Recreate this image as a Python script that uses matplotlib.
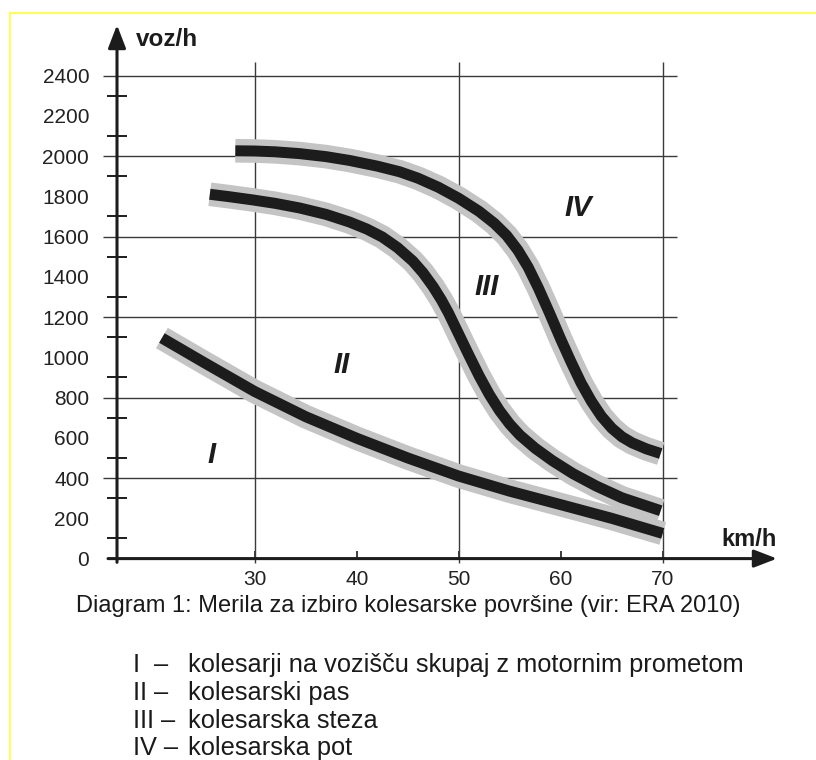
import numpy as np
import matplotlib
matplotlib.use("Agg")
import matplotlib.pyplot as plt
from matplotlib.lines import Line2D

plt.rcParams['font.family'] = ['Liberation Sans', 'DejaVu Sans']

# krivulje (km/h -> voz/h), odcitano z diagrama
speed_I = [20.9, 25, 30, 35, 40, 45, 50, 55, 60, 65, 70]
flow_I = [1096, 975, 830, 705, 598, 500, 410, 335, 268, 200, 125]

speed_II = [25.6, 27.5, 29.8, 32, 34.4, 37, 39.3, 41, 42.5, 44, 45.5, 46.5, 47.5,
            48.3, 49, 50, 51, 52, 53, 54, 55, 56, 57.5, 59.2, 61.2, 63.5, 66, 69.8]
flow_II = [1810, 1798, 1782, 1765, 1742, 1710, 1672, 1637, 1598, 1545, 1478, 1420, 1350,
           1285, 1220, 1115, 1010, 908, 815, 735, 668, 613, 548, 486, 422, 360, 302, 238]

speed_IV = [28.1, 30, 32, 34.4, 37, 39.3, 42, 44.2, 46, 48, 50, 52, 53.5, 54.7, 55.8,
            56.8, 57.8, 58.9, 60, 61, 62, 63, 64, 65, 66, 67, 68.4, 69.8]
flow_IV = [2026, 2025, 2021, 2012, 1997, 1978, 1950, 1922, 1890, 1845, 1790, 1725, 1665,
           1605, 1532, 1448, 1345, 1220, 1090, 978, 872, 782, 706, 648, 605, 575, 545, 522]

region_names = ['I', 'II', 'III', 'IV']
region_x = [25.8, 38.5, 52.7, 61.7]
region_y = [515, 962, 1349, 1741]

x_ticks = [30, 40, 50, 60, 70]
y_ticks = list(range(0, 2401, 200))
grid_x = [30, 50, 70]
grid_y = [400, 800, 1200, 1600, 2000, 2400]

caption = "Diagram 1: Merila za izbiro kolesarske površine (vir: ERA 2010)"
legend_num = ['I  –', 'II –', 'III –', 'IV –']
legend_txt = ['kolesarji na vozišču skupaj z motornim prometom',
              'kolesarski pas',
              'kolesarska steza',
              'kolesarska pot']

W, H = 816, 760
fig = plt.figure(figsize=(W / 100, H / 100), dpi=100)
ax = fig.add_axes([117 / W, 1 - 558.6 / H, 660 / W, 533.6 / H])
ax.set_xlim(16.5, 81.2)
ax.set_ylim(0, 2651)
for s in ax.spines.values():
    s.set_visible(False)

dark = '#1c1c1c'
gridc = '#3a3a3a'

# mreza
ax.hlines(grid_y, 15.1, 71.4, color=gridc, lw=1.0, zorder=2, clip_on=False)
ax.vlines(grid_x, -20, 2467, color=gridc, lw=1.0, zorder=2, clip_on=False)

# krivulje
for sx, fy in [(speed_I, flow_I), (speed_II, flow_II), (speed_IV, flow_IV)]:
    ax.plot(sx, fy, color='#c4c4c4', lw=17, solid_capstyle='butt',
            solid_joinstyle='round', zorder=3)
    ax.plot(sx, fy, color=dark, lw=7.9, solid_capstyle='butt',
            solid_joinstyle='round', zorder=4)

for name, x, y in zip(region_names, region_x, region_y):
    ax.text(x, y, name, fontsize=21, fontweight='bold', style='italic',
            color=dark, ha='center', va='center', zorder=5)

# osi s puscicami
arrow = dict(arrowstyle='-|>,head_length=0.7,head_width=0.27', lw=2.2,
             color=dark, shrinkA=0, shrinkB=0, mutation_scale=20)
ax.annotate('', xy=(1, 0), xytext=(-0.0136, 0), xycoords='axes fraction',
            arrowprops=arrow, annotation_clip=False)
ax.annotate('', xy=(0, 1), xytext=(0, -0.007), xycoords='axes fraction',
            arrowprops=arrow, annotation_clip=False)

ax.set_yticks(y_ticks)
ax.set_yticks(np.arange(100, 2400, 100), minor=True)
ax.tick_params(axis='y', which='major', length=0, pad=20, labelsize=15,
               labelcolor='#222222')
ax.tick_params(axis='y', which='minor', direction='inout', length=15,
               width=1.4, color=dark)
ax.set_xticks(x_ticks)
ax.tick_params(axis='x', which='major', direction='in', length=6, width=1.2,
               color=dark, pad=8, labelsize=15, labelcolor='#222222')

ax.text(0.029, 0.972, 'voz/h', transform=ax.transAxes, fontsize=17.5,
        fontweight='bold', color=dark, ha='left', va='center')
ax.text(1.0, 0.035, 'km/h', transform=ax.transAxes, fontsize=17,
        fontweight='bold', color=dark, ha='right', va='center')

fig.text(0.5, 1 - 606 / H, caption, fontsize=17, color='#1a1a1a',
         ha='center', va='center')

for i, (num, txt) in enumerate(zip(legend_num, legend_txt)):
    yy = 1 - (665 + 27.8 * i) / H
    fig.text(133 / W, yy, num, fontsize=18.3, color='#1a1a1a', va='center')
    fig.text(188 / W, yy, txt, fontsize=18.3, color='#1a1a1a', va='center')

# rumeni okvir
fig.add_artist(Line2D([10 / W, 1], [1 - 13 / H, 1 - 13 / H], color='#ffff33', lw=1.2))
fig.add_artist(Line2D([10 / W, 10 / W], [0, 1 - 13 / H], color='#ffff33', lw=1.2))

fig.savefig('out.png', dpi=100, facecolor='white')
